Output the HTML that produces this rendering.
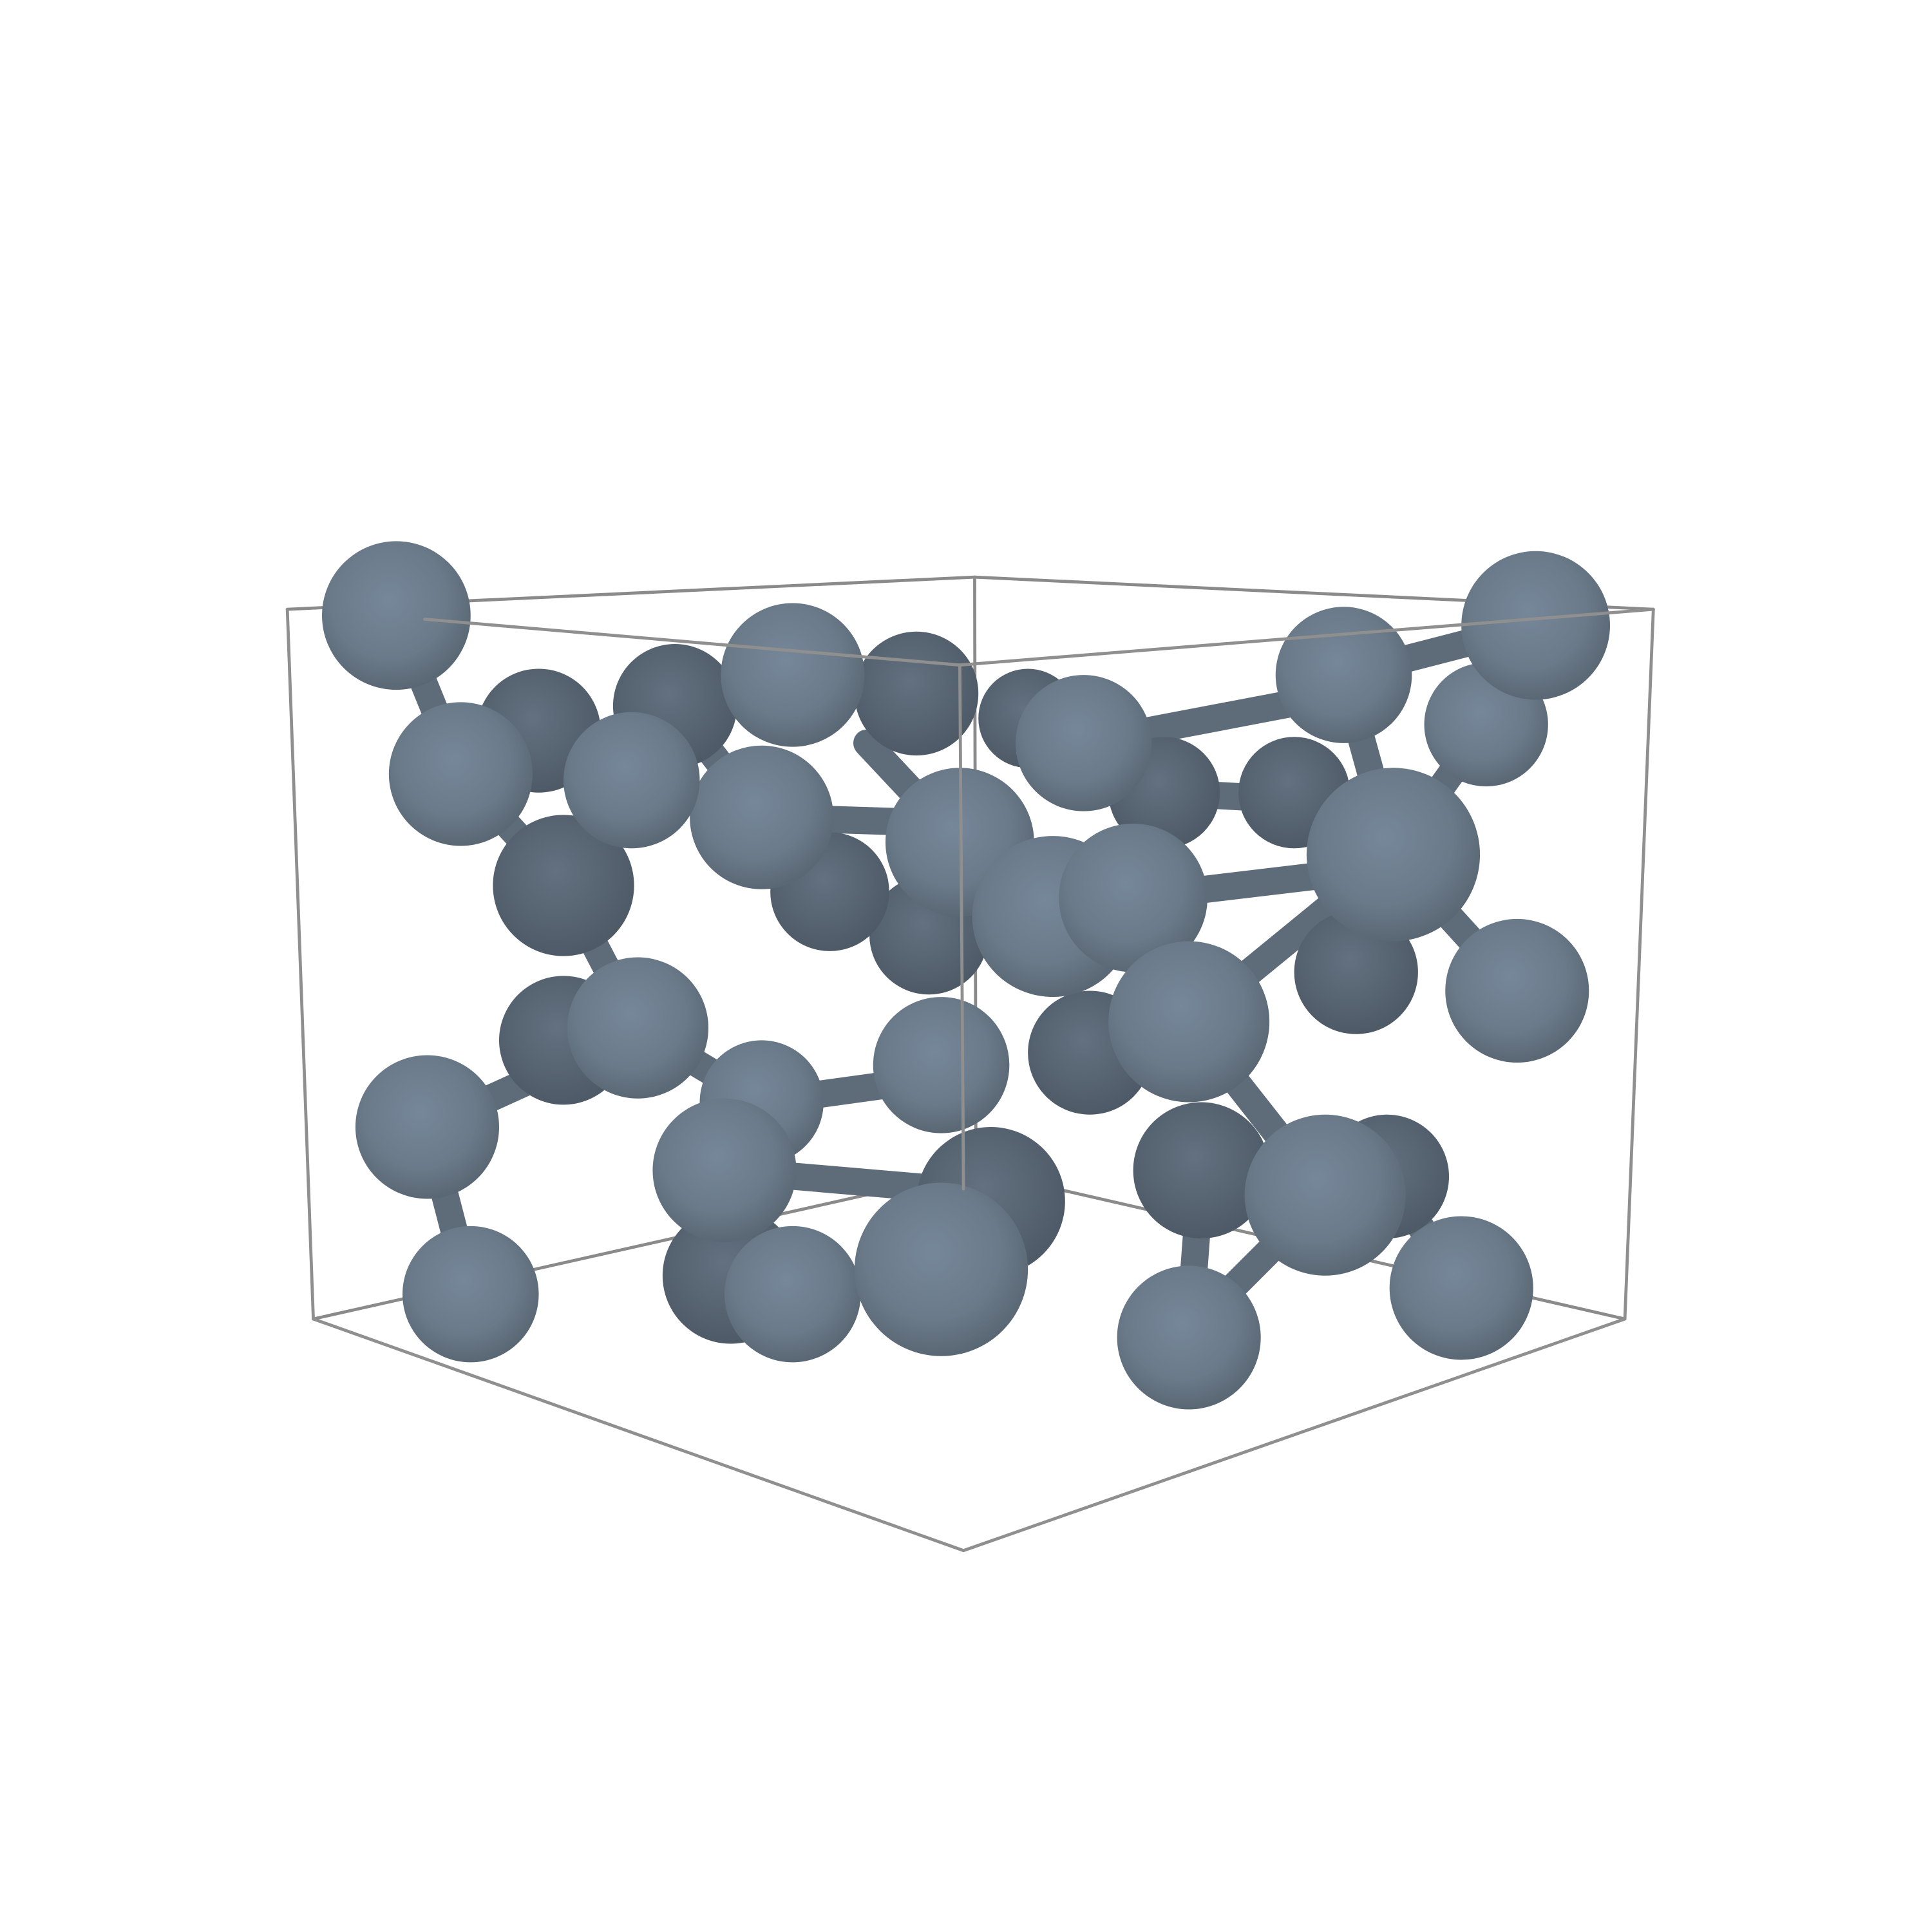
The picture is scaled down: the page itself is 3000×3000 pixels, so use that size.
<!DOCTYPE html>
<html><head><meta charset="utf-8"><style>
html,body{margin:0;padding:0;background:#fff;}
svg{display:block;}
</style></head><body>
<svg id="scene" width="3000" height="3000" viewBox="0 0 1560 1560" xmlns="http://www.w3.org/2000/svg">
<defs>
<radialGradient id="sph" cx="0.45" cy="0.4" r="0.65">
<stop offset="0" stop-color="#76879a"/>
<stop offset="0.6" stop-color="#6a7a89"/>
<stop offset="1" stop-color="#56636f"/>
</radialGradient>
<radialGradient id="sphd" cx="0.45" cy="0.4" r="0.65">
<stop offset="0" stop-color="#637180"/>
<stop offset="1" stop-color="#4c5864"/>
</radialGradient>
</defs>
<g id="back"></g>
<g id="bonds"></g>
<g id="atoms"></g>
<g id="front"></g>
</svg>
<script>
const backEdges=[[232,492,787,466],[787,466,1335,492],[787,466,788,945],[253,1065,788,945],[788,945,1312,1065]];
const frontEdges=[[232,492,253,1065],[343,500,775,537],[775,537,1335,492],[775,537,778,960],[253,1065,778,1252],[778,1252,1312,1065],[1335,492,1312,1065]];
const bondList=[[320,497,372,625],[455,715,515,830],[515,830,615,890],[345,910,455,860],[345,910,380,1045],[615,890,760,870],[585,945,760,960],[875,600,1085,560],[940,640,1125,650],[915,725,1125,700],[1125,690,960,825],[960,825,1070,965],[970,945,960,1080],[1070,965,990,1045],[1120,950,1180,1040],[615,660,775,665],[1125,690,1225,800],[1200,585,1125,690],[1085,545,1125,690],[545,570,615,660],[700,600,775,680],[775,680,850,740],[435,590,510,640],[372,625,455,715],[1240,505,1085,545]];
const atomX=[880,750,670,1095,1045,940,830,455,435,545,740,615,320,372,510,640,875,775,850,915,1085,1200,1240,1125,1225,455,515,345,380,615,760,800,590,640,585,970,1120,960,1070,1180,760,960];
const atomY=[850,755,720,785,640,640,580,715,590,570,560,660,497,625,630,545,600,680,740,725,545,585,505,690,800,840,830,910,1045,890,860,970,1030,1045,945,945,950,825,965,1040,1025,1080];
const atomR=[50,48,48,50,45,45,40,57,50,50,50,58,60,58,55,58,55,60,65,60,55,50,60,70,58,52,57,58,55,50,55,60,55,55,58,55,50,65,65,58,70,58];
const atomDark=[1,1,1,1,1,1,1,1,1,1,1,0,0,0,0,0,0,0,0,0,0,0,0,0,0,1,0,0,0,0,0,1,1,0,0,1,1,0,0,0,0,0];
const NS='http://www.w3.org/2000/svg';
function line(g,a,color,w,name){const l=document.createElementNS(NS,'line');
l.setAttribute('x1',a[0]);l.setAttribute('y1',a[1]);l.setAttribute('x2',a[2]);l.setAttribute('y2',a[3]);
l.setAttribute('stroke',color);l.setAttribute('stroke-width',w);l.setAttribute('stroke-linecap','round');


g.appendChild(l);}
const back=document.getElementById('back'),front=document.getElementById('front'),bonds=document.getElementById('bonds'),atoms=document.getElementById('atoms');
backEdges.forEach(e=>line(back,e,'#8a8a8a',2.5,'cell-edge-back'));
bondList.forEach(e=>line(bonds,e,'#5e6c79',22,'bond'));
atomX.forEach((x,i)=>{const c=document.createElementNS(NS,'circle');
c.setAttribute('cx',x);c.setAttribute('cy',atomY[i]);c.setAttribute('r',atomR[i]);
c.setAttribute('fill',atomDark[i]?'url(#sphd)':'url(#sph)');


atoms.appendChild(c);});
frontEdges.forEach(e=>line(front,e,'#8f8f8f',2.5,'cell-edge-front'));
</script>
</body></html>
